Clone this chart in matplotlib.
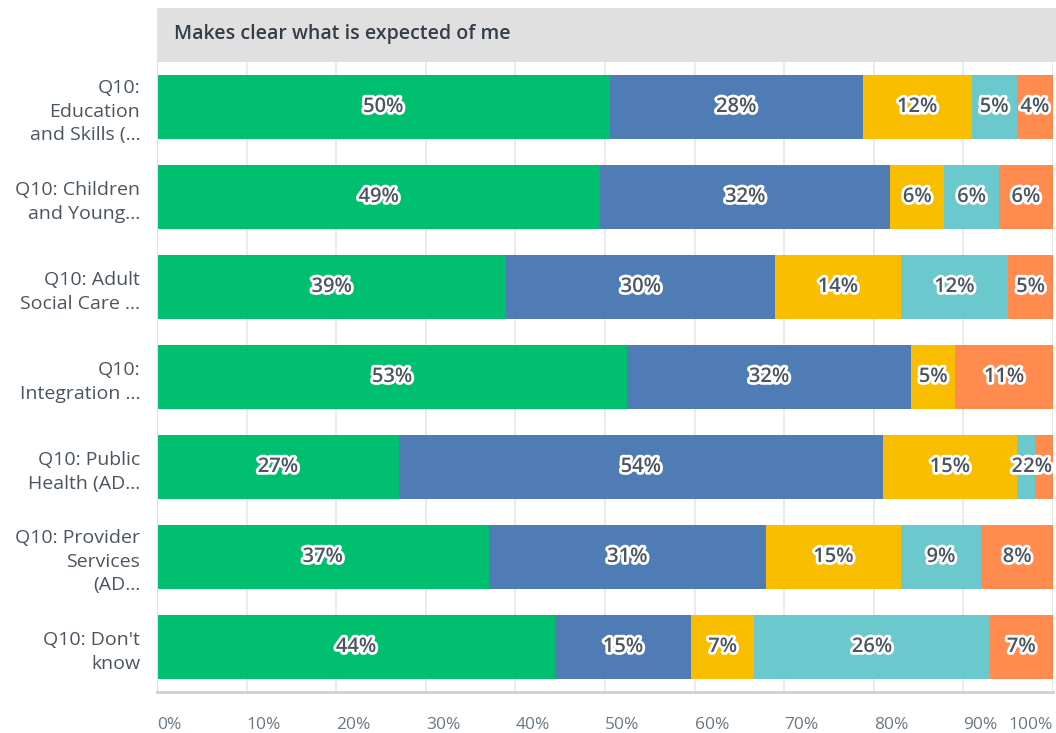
import numpy as np
import matplotlib.pyplot as plt
import matplotlib.patheffects as pe
from matplotlib.patches import Rectangle

plt.rcParams['font.family'] = ['Open Sans', 'DejaVu Sans']

categories = [
    "Q10:\nEducation\nand Skills (...",
    "Q10: Children\nand Young...",
    "Q10: Adult\nSocial Care ...",
    "Q10:\nIntegration ...",
    "Q10: Public\nHealth (AD...",
    "Q10: Provider\nServices\n(AD...",
    "Q10: Don't\nknow",
]
# answer shares per row (percent, as labelled)
green = [50, 49, 39, 53, 27, 37, 44]
blue = [28, 32, 30, 32, 54, 31, 15]
yellow = [12, 6, 14, 5, 15, 15, 7]
teal = [5, 6, 12, 0, 2, 9, 26]
orange = [4, 6, 5, 11, 2, 8, 7]
colors = ['#00bf6f', '#507cb6', '#f9be00', '#6bc8cd', '#ff8b4f']
title = "Makes clear what is expected of me"
xticks = [0, 10, 20, 30, 40, 50, 60, 70, 80, 90, 100]

series = np.array([green, blue, yellow, teal, orange], dtype=float)
totals = series.sum(axis=0)
widths = series / totals * 100

fig = plt.figure(figsize=(10.56, 7.33), dpi=100)
ax = fig.add_axes([157/1056, 1 - 692/733, 896/1056, 630/733])

# header band above the plot
fig.patches.append(Rectangle((157/1056, 1 - 62/733), 1 - 157/1056, 54/733,
                             transform=fig.transFigure, facecolor='#e0e0e0',
                             edgecolor='none', zorder=0))
fig.text(174/1056, 1 - 34/733, title, fontsize=14, fontweight='semibold',
         color='#333e48', va='center', ha='left')

y = np.arange(len(categories))
left = np.zeros(len(categories))
outline = [pe.withStroke(linewidth=4, foreground='white')]
for vals, w, c in zip(series, widths, colors):
    ax.barh(y, w, left=left, height=0.71, color=c, zorder=2)
    for yi, v, wi, li in zip(y, vals, w, left):
        if v <= 0:
            continue
        xc, ha = li + wi / 2, 'center'
        if li + wi / 2 > 98.5:
            # keep labels of thin end segments inside the plot
            xc, ha = 99.9, 'right'
        ax.text(xc, yi, f"{v:.0f}%", ha=ha, va='center',
                fontsize=14.5, color='#4a5560', fontweight='semibold',
                path_effects=outline, zorder=3)
    left = left + w

ax.set_xlim(0, 100)
ax.set_ylim(len(categories) - 0.5, -0.5)
ax.set_yticks(y)
ax.set_yticklabels(categories, fontsize=14, color='#4a5560', linespacing=1.4)
ax.set_xticks(xticks)
ax.set_xticklabels([f"{t}%" for t in xticks], fontsize=12.5, color='#6a7880')
# tick labels sit to the right of their tick, the last one ends at it
for lbl in ax.get_xticklabels():
    lbl.set_ha('left')
ax.get_xticklabels()[-1].set_ha('right')
ax.tick_params(axis='y', length=0, pad=12)
ax.tick_params(axis='x', length=0, pad=18)
ax.grid(axis='x', color='#e8e8e8', linewidth=1.2, zorder=0)
ax.set_axisbelow(True)
for s in ['top', 'right']:
    ax.spines[s].set_visible(False)
ax.spines['left'].set_color('#e0e0e0')
ax.spines['bottom'].set_color('#d0d0d0')
ax.spines['bottom'].set_linewidth(2)

fig.savefig('out.png', dpi=100)
